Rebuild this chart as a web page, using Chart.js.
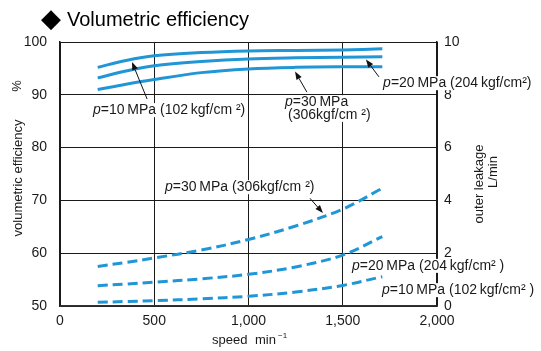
<!DOCTYPE html>
<html><head><meta charset="utf-8">
<script src="https://cdn.jsdelivr.net/npm/chart.js@4/dist/chart.umd.min.js"></script>
<style>html,body{margin:0;padding:0;background:#fff;}canvas{display:block;}</style>
</head><body>
<canvas id="c" width="541" height="351"></canvas>
<script>
// ---- data ----
const speeds = [200, 350, 500, 750, 1000, 1250, 1500, 1710];          // min^-1
// volumetric efficiency, % (left axis)
const eff10 = [95.2, 96.5, 97.4, 98.0, 98.3, 98.4, 98.5, 98.7];
const eff20 = [93.2, 94.5, 95.5, 96.3, 96.8, 97.0, 97.1, 97.2];
const eff30 = [91.0, 92.0, 92.9, 94.2, 94.9, 95.2, 95.3, 95.3];
// outer leakage, L/min (right axis)
const leak30 = [1.50, 1.65, 1.82, 2.12, 2.52, 3.03, 3.67, 4.46];
const leak20 = [0.77, 0.83, 0.90, 1.03, 1.20, 1.48, 1.93, 2.63];
const leak10 = [0.14, 0.17, 0.20, 0.27, 0.37, 0.53, 0.78, 1.11];
// tick labels
const xTicks = [0, 500, 1000, 1500, 2000];
const leftTicks = [50, 60, 70, 80, 90, 100];
const rightTicks = [0, 2, 4, 6, 8, 10];

const FONT = "'Liberation Sans', Arial, sans-serif";
const BLUE = '#2196d6';

const pts = (ys) => speeds.map((s, i) => ({x: s, y: ys[i]}));

function ds(label, ys, axis, dashed) {
  return {
    label, data: pts(ys), yAxisID: axis,
    borderColor: BLUE, borderWidth: 3, pointRadius: 0,
    tension: 0.35, fill: false,
    borderDash: dashed ? [10, 5] : [], borderCapStyle: 'butt'
  };
}

// annotations: position in data units (x: speed, y: left-axis %)
const notes = [
  {x: 175,  y: 87.1,  parts: [['p','i'], ['=10\u2009MPa (102\u2009kgf/cm \u00b2)','n']]},
  {x: 1194, y: 88.6,  parts: [['p','i'], ['=30\u2009MPa','n']]},
  {x: 1210, y: 86.2,  parts: [['(306kgf/cm \u00b2)','n']]},
  {x: 1714, y: 92.2,  parts: [['p','i'], ['=20\u2009MPa (204\u2009kgf/cm\u00b2)','n']]},
  {x: 557,  y: 72.5,  parts: [['p','i'], ['=30\u2009MPa (306kgf/cm \u00b2)','n']]},
  {x: 1549, y: 57.6,  parts: [['p','i'], ['=20\u2009MPa (204\u2009kgf/cm\u00b2 )','n']]},
  {x: 1708, y: 53.0,  parts: [['p','i'], ['=10\u2009MPa (102\u2009kgf/cm\u00b2 )','n']]}
];
const arrows = [
  {from: [462, 89.2],  to: [382, 96.2]},
  {from: [1310, 90.5], to: [1247, 94.4]},
  {from: [1692, 93.4], to: [1623, 96.7]},
  {from: [1326, 70.4], to: [1395, 67.6]}
];

function drawArrow(ctx, x1, y1, x2, y2) {
  ctx.save();
  ctx.strokeStyle = '#111'; ctx.fillStyle = '#111'; ctx.lineWidth = 1;
  const a = Math.atan2(y2 - y1, x2 - x1), L = 8, W = 3;
  const bx = x2 - L * Math.cos(a), by = y2 - L * Math.sin(a);
  ctx.beginPath(); ctx.moveTo(x1, y1); ctx.lineTo(bx, by); ctx.stroke();
  ctx.beginPath(); ctx.moveTo(x2, y2);
  ctx.lineTo(bx + W * Math.sin(a), by - W * Math.cos(a));
  ctx.lineTo(bx - W * Math.sin(a), by + W * Math.cos(a));
  ctx.closePath(); ctx.fill();
  ctx.restore();
}

function richWidth(ctx, parts, size) {
  let w = 0;
  for (const [t, s] of parts) {
    ctx.font = (s === 'i' ? 'italic ' : '') + size + 'px ' + FONT;
    w += ctx.measureText(t).width;
  }
  return w;
}
function drawRich(ctx, x, y, parts, size, bg) {
  const w = richWidth(ctx, parts, size);
  if (bg) { ctx.fillStyle = '#fff'; ctx.fillRect(x - 2, y - 7, w + 4, 14); }
  ctx.fillStyle = '#1a1a1a'; ctx.textBaseline = 'middle'; ctx.textAlign = 'left';
  let cx = x;
  for (const [t, s] of parts) {
    ctx.font = (s === 'i' ? 'italic ' : '') + size + 'px ' + FONT;
    ctx.fillText(t, cx, y);
    cx += ctx.measureText(t).width;
  }
}
function rotText(ctx, t, x, y, size) {
  ctx.save(); ctx.translate(x, y); ctx.rotate(-Math.PI / 2);
  ctx.font = size + 'px ' + FONT; ctx.fillStyle = '#1a1a1a';
  ctx.textAlign = 'center'; ctx.textBaseline = 'middle';
  ctx.fillText(t, 0, 0); ctx.restore();
}

const deco = {
  id: 'deco',
  afterDatasetsDraw(chart) {
    const ctx = chart.ctx, xs = chart.scales.x, ys = chart.scales.y;
    ctx.save();
    for (const a of arrows) {
      drawArrow(ctx, xs.getPixelForValue(a.from[0]), ys.getPixelForValue(a.from[1]),
                     xs.getPixelForValue(a.to[0]), ys.getPixelForValue(a.to[1]));
    }
    for (const n of notes) {
      drawRich(ctx, xs.getPixelForValue(n.x), ys.getPixelForValue(n.y), n.parts, 14, true);
    }
    // chart title
    ctx.fillStyle = '#000'; ctx.textBaseline = 'alphabetic'; ctx.textAlign = 'left';
    ctx.font = "26px 'DejaVu Sans', sans-serif";
    ctx.fillText('\u25c6', 41, 27);
    ctx.font = '20px ' + FONT;
    ctx.fillText('Volumetric efficiency', 67, 26);
    // axis titles
    rotText(ctx, '%', 17, 86, 13);
    rotText(ctx, 'volumetric efficiency', 18, 178, 13);
    rotText(ctx, 'outer leakage', 479, 184, 13);
    rotText(ctx, 'L/min', 493, 172, 13);
    ctx.font = '13px ' + FONT; ctx.fillStyle = '#1a1a1a'; ctx.textBaseline = 'alphabetic';
    ctx.fillText('speed', 212, 344);
    ctx.fillText('min', 255, 344);
    ctx.font = '8px ' + FONT;
    ctx.fillText('\u22121', 278, 338);
    ctx.restore();
  }
};

const tickFont = {family: FONT, size: 14};
const setTicks = (arr) => (scale) => { scale.ticks = arr.map(v => ({value: v})); };

new Chart(document.getElementById('c'), {
  type: 'line',
  data: {
    datasets: [
      ds('p=10MPa efficiency', eff10, 'y', false),
      ds('p=20MPa efficiency', eff20, 'y', false),
      ds('p=30MPa efficiency', eff30, 'y', false),
      ds('p=30MPa leakage', leak30, 'y2', true),
      ds('p=20MPa leakage', leak20, 'y2', true),
      ds('p=10MPa leakage', leak10, 'y2', true)
    ]
  },
  options: {
    responsive: false, animation: false, devicePixelRatio: 1,
    layout: {padding: {top: 42, left: 0, right: 0, bottom: 0}},
    plugins: {legend: {display: false}, tooltip: {enabled: false}, title: {display: false}},
    scales: {
      x: {
        type: 'linear', position: 'bottom', min: 0, max: 2000,
        afterBuildTicks: setTicks(xTicks),
        afterFit: (s) => { s.height = 45; },
        grid: {color: '#1a1a1a', lineWidth: 1, drawTicks: false},
        border: {color: '#333', width: 1.5},
        ticks: {font: tickFont, color: '#1a1a1a', padding: 7, maxRotation: 0,
                callback: (v) => v.toLocaleString('en-US')}
      },
      y: {
        type: 'linear', position: 'left', min: 50, max: 100,
        afterBuildTicks: setTicks(leftTicks),
        afterFit: (s) => { s.width = 60; },
        grid: {color: '#1a1a1a', lineWidth: 1, drawTicks: false},
        border: {color: '#1a1a1a', width: 1.5},
        ticks: {font: tickFont, color: '#1a1a1a', padding: 13}
      },
      y2: {
        type: 'linear', position: 'right', min: 0, max: 10,
        afterBuildTicks: setTicks(rightTicks),
        afterFit: (s) => { s.width = 104; },
        grid: {drawOnChartArea: false, drawTicks: false},
        border: {color: '#1a1a1a', width: 1.5},
        ticks: {font: tickFont, color: '#1a1a1a', padding: 7}
      }
    }
  },
  plugins: [deco]
});
</script>
</body></html>
